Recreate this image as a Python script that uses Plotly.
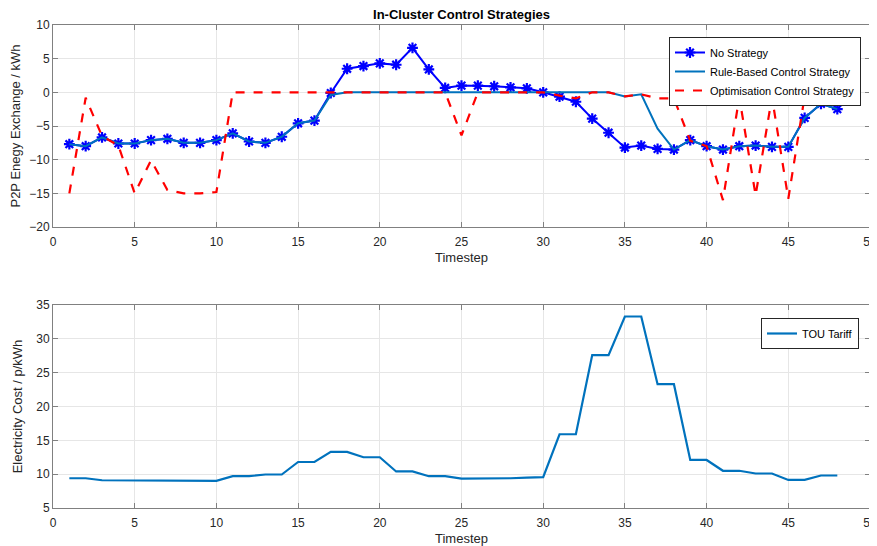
import plotly.graph_objects as go

timestep = list(range(1, 49))

no_strategy = [-7.7, -8.0, -6.7, -7.6, -7.6, -7.1, -6.9, -7.5, -7.5, -7.1,
               -6.1, -7.3, -7.5, -6.6, -4.6, -4.2, -0.1, 3.5, 3.9, 4.3,
               4.1, 6.6, 3.4, 0.65, 1.0, 1.0, 0.9, 0.75, 0.6, 0.0,
               -0.65, -1.4, -3.9, -6.0, -8.2, -7.9, -8.4, -8.5, -7.1, -8.0,
               -8.5, -8.0, -7.9, -8.1, -8.1, -3.8, -1.7, -2.5]

rule_based = [-7.7, -8.0, -6.7, -7.6, -7.6, -7.1, -6.9, -7.5, -7.5, -7.1,
              -6.1, -7.3, -7.5, -6.6, -4.6, -4.2, -0.4, 0.0, 0.0, 0.0,
              0.0, 0.0, 0.0, 0.0, 0.0, 0.0, 0.0, 0.0, 0.0, 0.0,
              0.0, 0.0, 0.0, 0.0, -0.6, -0.3, -5.4, -8.5, -7.1, -8.0,
              -8.5, -8.0, -7.9, -8.1, -8.1, -3.8, -1.7, -2.5]

optimisation = [-15.0, -0.8, -6.5, -7.9, -15.0, -10.1, -14.5, -15.0, -15.0, -14.8,
                0.0, 0.0, 0.0, 0.0, 0.0, 0.0, 0.0, 0.0, 0.0, 0.0,
                0.0, 0.0, 0.0, 0.0, -6.4, 0.0, 0.0, 0.0, 0.0, 0.0,
                -0.5, -0.9, 0.0, 0.0, -0.6, -0.3, -0.9, -0.9, -7.2, -8.0,
                -16.0, -0.7, -15.3, -0.7, -15.8, -0.6, 0.0, 0.0]

tou_tariff = [9.4, 9.4, 9.1, 9.1, 9.1, 9.1, 9.05, 9.05, 9.0, 9.0,
              9.7, 9.7, 9.95, 9.95, 11.8, 11.8, 13.3, 13.3, 12.5, 12.5,
              10.4, 10.4, 9.7, 9.7, 9.35, 9.35, 9.35, 9.4, 9.5, 9.55,
              15.9, 15.9, 27.6, 27.6, 33.3, 33.3, 23.3, 23.3, 12.1, 12.1,
              10.5, 10.5, 10.1, 10.1, 9.15, 9.15, 9.8, 9.8]

# the plot div sits 8px in from the page's top-left corner (body margin)
OFF = 8
W, H = 877 - OFF, 546 - OFF
FONT = "Liberation Sans, Arial, sans-serif"


def px(x):
    return (x - OFF) / W


def py(y):
    return 1 - (y - OFF) / H


fig = go.Figure()
fig.add_trace(go.Scatter(x=timestep, y=no_strategy, name="No Strategy", mode="lines+markers",
                         line=dict(color="#0000FF", width=2),
                         marker=dict(symbol="asterisk-open", size=9, color="#0000FF",
                                     line=dict(color="#0000FF", width=2.2)),
                         xaxis="x", yaxis="y", legend="legend"))
fig.add_trace(go.Scatter(x=timestep, y=rule_based, name="Rule-Based Control Strategy", mode="lines",
                         line=dict(color="#0072BD", width=2),
                         xaxis="x", yaxis="y", legend="legend"))
fig.add_trace(go.Scatter(x=timestep, y=optimisation, name="Optimisation Control Strategy", mode="lines",
                         line=dict(color="#FF0000", width=2.2, dash="dash"),
                         xaxis="x", yaxis="y", legend="legend"))
fig.add_trace(go.Scatter(x=timestep, y=tou_tariff, name="TOU Tariff", mode="lines",
                         line=dict(color="#0072BD", width=2.2),
                         xaxis="x2", yaxis="y2", legend="legend2"))

x0, x1 = px(53), px(870)
axis_common = dict(showline=True, linecolor="#808080", linewidth=1, mirror="ticks",
                   ticks="inside", ticklen=5, tickcolor="#808080",
                   showgrid=True, gridcolor="#E6E6E6", gridwidth=1, zeroline=False,
                   tickfont=dict(family=FONT, size=12, color="#262626"),
                   automargin=False)

fig.update_layout(
    width=W, height=H,
    margin=dict(l=0, r=0, t=0, b=0),
    paper_bgcolor="white", plot_bgcolor="white",
    font=dict(family=FONT, color="#262626"),
    showlegend=True,
    title=dict(text="<b>In-Cluster Control Strategies</b>", x=(x0 + x1) / 2, xanchor="center",
               y=py(14), yanchor="middle", font=dict(family=FONT, size=13, color="#000000")),
    xaxis=dict(domain=[x0, x1], range=[0, 50], dtick=5, anchor="y", ticklabelstandoff=4,
               title=dict(text="Timestep", standoff=4, font=dict(family=FONT, size=13)), **axis_common),
    yaxis=dict(domain=[py(227), py(25)], range=[-20, 10], dtick=5, anchor="x",
               title=dict(text="P2P Enegy Exchange / kWh", standoff=10, font=dict(family=FONT, size=13)),
               **axis_common),
    xaxis2=dict(domain=[x0, x1], range=[0, 50], dtick=5, anchor="y2", ticklabelstandoff=4,
                title=dict(text="Timestep", standoff=4, font=dict(family=FONT, size=13)), **axis_common),
    yaxis2=dict(domain=[py(508), py(305)], range=[5, 35], dtick=5, anchor="x2",
                title=dict(text="Electricity Cost / p/kWh", standoff=10, font=dict(family=FONT, size=13)),
                **axis_common),
    legend=dict(x=px(861), y=py(37), xanchor="right", yanchor="top",
                bgcolor="white", bordercolor="#262626", borderwidth=1,
                font=dict(family=FONT, size=11, color="#000000"),
                tracegroupgap=0, itemwidth=30),
    legend2=dict(x=px(859), y=py(318), xanchor="right", yanchor="top",
                 bgcolor="white", bordercolor="#262626", borderwidth=1,
                 font=dict(family=FONT, size=11, color="#000000"), itemwidth=30),
)

fig.write_html("out.html")
